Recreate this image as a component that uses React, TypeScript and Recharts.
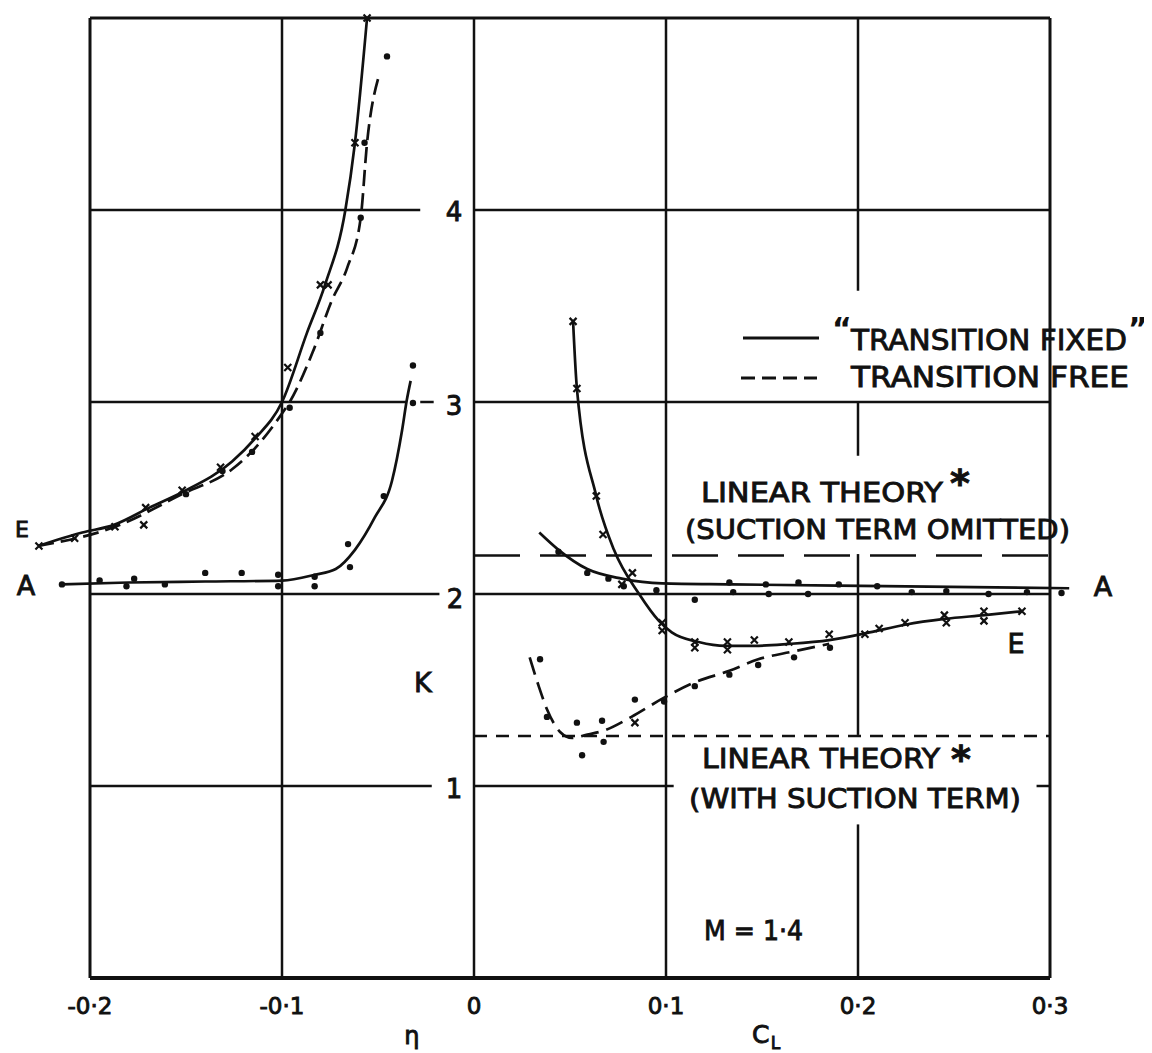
import React from "react";
import {
  ComposedChart,
  Line,
  Scatter,
  XAxis,
  YAxis,
  ReferenceLine,
  ReferenceDot,
  Legend,
} from "recharts";

const FONT = "'DejaVu Sans', sans-serif";
const INK = "#111";

type P = [number, number];

// x ticks (C_L)
const xTicks = [-0.2, -0.1, 0, 0.1, 0.2, 0.3];

// ---- negative C_L side ----
const leftFixedCurve: P[] = [
  [-0.227, 2.25], [-0.204, 2.32], [-0.1875, 2.36], [-0.169, 2.45], [-0.152, 2.53],
  [-0.126, 2.69], [-0.114, 2.81], [-0.1, 3.0], [-0.087, 3.36], [-0.0776, 3.61],
  [-0.067, 4.0], [-0.062, 4.35], [-0.0557, 5.0],
];
const leftFixedPts: P[] = [
  [-0.2266, 2.25], [-0.208, 2.29], [-0.187, 2.35], [-0.171, 2.45], [-0.172, 2.36],
  [-0.152, 2.54], [-0.132, 2.66], [-0.114, 2.82], [-0.097, 3.18], [-0.08, 3.61],
  [-0.076, 3.61], [-0.062, 4.35], [-0.0557, 5.0],
];
const leftFreeCurve: P[] = [
  [-0.227, 2.25], [-0.187, 2.35], [-0.152, 2.52], [-0.126, 2.65], [-0.114, 2.76],
  [-0.1, 2.94], [-0.096, 3.0], [-0.084, 3.26], [-0.074, 3.53], [-0.066, 3.7],
  [-0.059, 3.96], [-0.0557, 4.35], [-0.0495, 4.7],
];
const leftFreePts: P[] = [
  [-0.0453, 4.8], [-0.057, 4.35], [-0.059, 3.96], [-0.08, 3.36], [-0.096, 2.97],
  [-0.1156, 2.74], [-0.131, 2.64], [-0.15, 2.52],
];
const leftACurve: P[] = [
  [-0.2146, 2.05], [-0.18, 2.06], [-0.14, 2.065], [-0.1, 2.07], [-0.083, 2.1],
  [-0.072, 2.13], [-0.062, 2.23], [-0.0516, 2.4], [-0.0427, 2.59], [-0.0375, 2.85],
  [-0.035, 3.01], [-0.033, 3.11],
];
const leftAPts: P[] = [
  [-0.2146, 2.05], [-0.195, 2.07], [-0.181, 2.04], [-0.177, 2.08], [-0.161, 2.05],
  [-0.14, 2.11], [-0.121, 2.11], [-0.102, 2.1], [-0.102, 2.04], [-0.083, 2.09],
  [-0.083, 2.04], [-0.0656, 2.26], [-0.0646, 2.14], [-0.047, 2.51], [-0.0318, 2.995],
  [-0.0318, 3.19],
];

// ---- positive C_L side ----
const rightFixedCurve: P[] = [
  [0.0516, 3.42], [0.0536, 3.07], [0.0637, 2.51], [0.0729, 2.23], [0.086, 2.0],
  [0.0963, 1.86], [0.103, 1.8], [0.117, 1.75], [0.131, 1.73], [0.146, 1.73],
  [0.164, 1.74], [0.185, 1.76], [0.206, 1.8], [0.2245, 1.84], [0.245, 1.87],
  [0.266, 1.89], [0.2854, 1.91],
];
const rightFixedPts: P[] = [
  [0.0516, 3.42], [0.0536, 3.07], [0.0637, 2.51], [0.0672, 2.31], [0.077, 2.05],
  [0.0825, 2.11], [0.098, 1.85], [0.098, 1.81], [0.115, 1.75], [0.115, 1.72],
  [0.132, 1.75], [0.132, 1.71], [0.146, 1.76], [0.164, 1.75], [0.185, 1.79],
  [0.2036, 1.79], [0.211, 1.82], [0.2245, 1.85], [0.245, 1.89], [0.246, 1.85],
  [0.2656, 1.91], [0.2656, 1.86], [0.2854, 1.91], [0.0838, 1.33],
];
const rightFreeCurve: P[] = [
  [0.029, 1.67], [0.0337, 1.52], [0.038, 1.4], [0.045, 1.28], [0.051, 1.25],
  [0.058, 1.265], [0.068, 1.29], [0.082, 1.36], [0.099, 1.46], [0.115, 1.54],
  [0.133, 1.6], [0.148, 1.66], [0.166, 1.7], [0.185, 1.74],
];
const rightFreePts: P[] = [
  [0.0344, 1.66], [0.038, 1.36], [0.0536, 1.33], [0.0563, 1.16], [0.0667, 1.34],
  [0.0675, 1.23], [0.0838, 1.45], [0.099, 1.44], [0.115, 1.52], [0.133, 1.58],
  [0.148, 1.63], [0.1667, 1.67], [0.1854, 1.72],
];
const rightACurve: P[] = [
  [0.034, 2.32], [0.044, 2.23], [0.059, 2.13], [0.077, 2.08], [0.098, 2.055],
  [0.134, 2.05], [0.225, 2.04], [0.31, 2.03],
];
const rightAPts: P[] = [
  [0.044, 2.22], [0.059, 2.11], [0.07, 2.08], [0.078, 2.04], [0.095, 2.02],
  [0.115, 1.97], [0.133, 2.06], [0.135, 2.01], [0.152, 2.05], [0.1535, 2.0],
  [0.169, 2.06], [0.174, 2.0], [0.19, 2.05], [0.21, 2.04], [0.228, 2.01],
  [0.246, 2.015], [0.268, 2.0], [0.288, 2.01], [0.306, 2.005],
];

// linear theory levels
const kNoSuction = 2.2;
const kSuction = 1.26;

const pts = (a: P[]) => a.map(([x, y]) => ({ x, y }));

type Seg = [number, number, number, number];
// grid pieces drawn on the chart: [x1, y1, x2, y2]
const gridSegs: Seg[] = [
  [-0.2, 4, -0.028, 4], [0, 4, 0.3, 4],
  [-0.2, 3, -0.035, 3], [-0.028, 3, -0.021, 3], [0, 3, 0.3, 3],
  [-0.2, 2, -0.018, 2], [0, 2, 0.3, 2],
  [-0.2, 1, -0.022, 1], [0, 1, 0.104, 1], [0.293, 1, 0.3, 1],
  [-0.1, 0, -0.1, 5], [0, 0, 0, 5], [0.1, 0, 0.1, 5],
  [0.2, 3.58, 0.2, 5], [0.2, 2.72, 0.2, 3], [0.2, 1.266, 0.2, 2.208], [0.2, 0, 0.2, 0.8],
];
const frameSegs: Seg[] = [
  [-0.2, 5, 0.3, 5], [-0.2, 0, -0.2, 5], [0.3, 0, 0.3, 5],
];

type Note = { x: number; y: number; t: string; size?: number; anchor?: string; len?: number; bold?: boolean };
const notes: Note[] = [
  { x: 0.1182, y: 2.479, t: "LINEAR THEORY", len: 242 },
  { x: 0.2479, y: 2.51, t: "*", size: 38, bold: true },
  { x: 0.1099, y: 2.286, t: "(SUCTION TERM OMITTED)", len: 385 },
  { x: 0.1188, y: 1.094, t: "LINEAR THEORY", len: 238 },
  { x: 0.2484, y: 1.073, t: "*", size: 38, bold: true },
  { x: 0.112, y: 0.885, t: "(WITH SUCTION TERM)", len: 332 },
  { x: 0.1198, y: 0.198, t: "M = 1·4", len: 99 },
  { x: -0.2333, y: 1.995, t: "A", anchor: "middle" },
  { x: -0.2354, y: 2.297, t: "E", anchor: "middle", size: 22 },
  { x: 0.3276, y: 1.99, t: "A", anchor: "middle" },
  { x: 0.2823, y: 1.693, t: "E", anchor: "middle" },
  { x: -0.0266, y: 1.49, t: "K", anchor: "middle" },
  { x: -0.0104, y: 3.943, t: "4", anchor: "middle", size: 26 },
  { x: -0.0104, y: 2.932, t: "3", anchor: "middle", size: 26 },
  { x: -0.0099, y: 1.927, t: "2", anchor: "middle", size: 26 },
  { x: -0.0104, y: 0.9375, t: "1", anchor: "middle", size: 26 },
  { x: 0.1448, y: -0.339, t: "C", size: 25 },
  { x: 0.1545, y: -0.372, t: "L", size: 17 },
  { x: -0.0323, y: -0.345, t: "η", anchor: "middle", size: 24 },
];

const fmt = (v: number) => (v === 0 ? "0" : (v < 0 ? "-" : "") + "0·" + Math.round(Math.abs(v) * 10));

const CrossMark = (p: any) => {
  const { cx, cy } = p;
  const s = 3.5;
  return (
    <path
      d={`M${cx - s},${cy - s}L${cx + s},${cy + s}M${cx + s},${cy - s}L${cx - s},${cy + s}`}
      stroke={INK}
      strokeWidth={2.2}
    />
  );
};
const DotMark = (p: any) => <circle cx={p.cx} cy={p.cy} r={3.2} fill={INK} />;

const LegendBox = () => (
  <svg width={410} height={90} style={{ overflow: "visible" }}>
    <line x1={8} y1={28} x2={84} y2={28} stroke={INK} strokeWidth={3} />
    <text x={97} y={29} fontSize={30} fontWeight={700} fontFamily={FONT} fill={INK}>“</text>
    <text x={116} y={40} fontSize={29} fontFamily={FONT} fill={INK} stroke={INK} strokeWidth={0.9}
      textLength={276} lengthAdjust="spacingAndGlyphs">TRANSITION FIXED</text>
    <text x={393} y={29} fontSize={30} fontWeight={700} fontFamily={FONT} fill={INK}>”</text>
    <line x1={6} y1={68} x2={82} y2={68} stroke={INK} strokeWidth={3} strokeDasharray="14 7" />
    <text x={116} y={77} fontSize={29} fontFamily={FONT} fill={INK} stroke={INK} strokeWidth={0.9}
      textLength={278} lengthAdjust="spacingAndGlyphs">TRANSITION FREE</text>
  </svg>
);

export default function App() {
  const curve = (d: P[], dash?: string) => (
    <Line
      data={pts(d)}
      dataKey="y"
      type="monotone"
      dot={false}
      stroke={INK}
      strokeWidth={2.7}
      strokeDasharray={dash}
      isAnimationActive={false}
      legendType="none"
    />
  );
  const marks = (d: P[], shape: any) => (
    <Scatter data={pts(d)} dataKey="y" shape={shape} isAnimationActive={false} legendType="none" />
  );
  return (
    <ComposedChart width={1136} height={1045} margin={{ top: 10, right: 17.2, left: 5.2, bottom: 0 }}>
      <XAxis
        type="number"
        dataKey="x"
        domain={[-0.24, 0.34]}
        ticks={xTicks}
        interval={0}
        tickFormatter={fmt}
        axisLine={false}
        tickLine={false}
        tickMargin={14}
        height={75}
        tick={{ fontSize: 23, fill: INK, fontFamily: FONT, stroke: INK, strokeWidth: 0.9 }}
      />
      <YAxis type="number" domain={[0, 5]} hide width={0} />

      {frameSegs.map(([a, b, c, d], i) => (
        <ReferenceLine key={"f" + i} segment={[{ x: a, y: b }, { x: c, y: d }]} stroke={INK} strokeWidth={3} ifOverflow="visible" />
      ))}
      <ReferenceLine segment={[{ x: -0.2, y: 0 }, { x: 0.3, y: 0 }]} stroke={INK} strokeWidth={4} ifOverflow="visible" />
      {gridSegs.map(([a, b, c, d], i) => (
        <ReferenceLine key={"g" + i} segment={[{ x: a, y: b }, { x: c, y: d }]} stroke={INK} strokeWidth={2.5} ifOverflow="visible" />
      ))}
      <ReferenceLine segment={[{ x: 0, y: kNoSuction }, { x: 0.3, y: kNoSuction }]} stroke={INK} strokeWidth={2.5} strokeDasharray="46 20" />
      <ReferenceLine segment={[{ x: 0, y: kSuction }, { x: 0.3, y: kSuction }]} stroke={INK} strokeWidth={2.5} strokeDasharray="13 9" />

      {curve(leftFixedCurve)}
      {curve(leftFreeCurve, "16 7")}
      {curve(leftACurve)}
      {curve(rightFixedCurve)}
      {curve(rightFreeCurve, "18 8")}
      {curve(rightACurve)}

      {marks(leftFixedPts, CrossMark)}
      {marks(leftFreePts, DotMark)}
      {marks(leftAPts, DotMark)}
      {marks(rightFixedPts, CrossMark)}
      {marks(rightFreePts, DotMark)}
      {marks(rightAPts, DotMark)}

      {notes.map((n, i) => (
        <ReferenceDot
          key={"n" + i}
          x={n.x}
          y={n.y}
          r={0}
          fill="none"
          stroke="none"
          ifOverflow="visible"
          label={(p: any) => (
            <text
              x={p.viewBox.x}
              y={p.viewBox.y}
              fontSize={n.size ?? 27}
              fontFamily={FONT}
              fontWeight={n.bold ? 700 : 400}
              textAnchor={n.anchor ?? "start"}
              fill={INK}
              stroke={INK}
              strokeWidth={0.9}
              textLength={n.len}
              lengthAdjust={n.len ? "spacingAndGlyphs" : undefined}
            >
              {n.t}
            </text>
          )}
        />
      ))}

      <Legend
        layout="vertical"
        align="center"
        verticalAlign="middle"
        content={() => <LegendBox />}
        wrapperStyle={{ position: "absolute", left: 727, top: 302, width: 410, height: 90 }}
      />
    </ComposedChart>
  );
}
